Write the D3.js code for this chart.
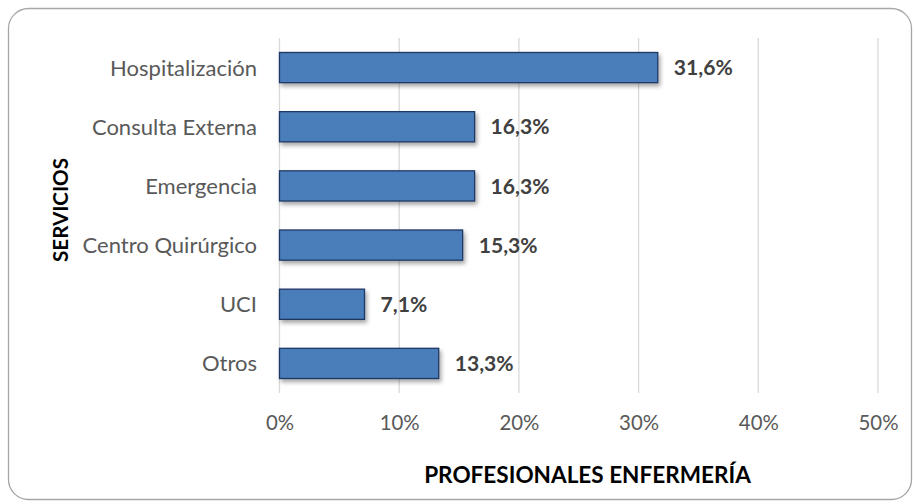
<!DOCTYPE html>
<html><head><meta charset="utf-8">
<script src="https://cdn.jsdelivr.net/npm/d3@7"></script>
<style>html,body{margin:0;padding:0;background:#fff}</style>
</head><body>
<script>
const categories = ["Hospitalización","Consulta Externa","Emergencia","Centro Quirúrgico","UCI","Otros"];
const values = [31.6,16.3,16.3,15.3,7.1,13.3];
const valueLabels = ["31,6%","16,3%","16,3%","15,3%","7,1%","13,3%"];
const ticks = [0,10,20,30,40,50];
const xTitle = "PROFESIONALES ENFERMERÍA";
const yTitle = "SERVICIOS";

const W=915,H=504;
const font = "Lato, 'Open Sans', sans-serif";
const svg = d3.select("body").append("svg").attr("width",W).attr("height",H);
const defs = svg.append("defs");
const f = defs.append("filter").attr("id","sh").attr("x","-10%").attr("y","-30%").attr("width","130%").attr("height","180%");
f.append("feDropShadow").attr("dx",2).attr("dy",3).attr("stdDeviation",2.2).attr("flood-color","#000").attr("flood-opacity",0.35);

// size a font so that a sample string has a target width
function fitSize(sample, target, weight){
  const t = svg.append("text").attr("font-family",font).attr("font-size",20).attr("font-weight",weight||"normal").text(sample);
  const w = t.node().getComputedTextLength(); t.remove();
  return 20*target/w;
}
const catSize = fitSize("Hospitalización",147);
const tickSize = fitSize("20%",40);
const valSize = fitSize("31,6%",59,"bold");
const titleSize = fitSize(xTitle,327,"bold");
const yTitleSize = fitSize(yTitle,104,"bold");

svg.append("rect").attr("x",8.5).attr("y",8.5).attr("width",903).attr("height",491).attr("rx",20)
  .attr("fill","#fff").attr("stroke","#a6a6a6").attr("stroke-width",1.3);

const x = d3.scaleLinear().domain([0,50]).range([279.5,878]);
const y = d3.scaleBand().domain(categories).range([38,393]).paddingInner(0.49).paddingOuter(0.245);

const g = svg.append("g");
g.selectAll("line.grid").data(ticks).join("line").attr("class","grid")
  .attr("x1",d=>x(d)).attr("x2",d=>x(d)).attr("y1",38).attr("y2",393)
  .attr("stroke","#d9d9d9").attr("stroke-width",1.3);

const xAxis = d3.axisBottom(x).tickValues(ticks).tickFormat(d=>d+"%").tickSize(0).tickPadding(0);
const xa = svg.append("g").attr("transform","translate(0,430)").call(xAxis);
xa.select(".domain").remove();
xa.selectAll("text").attr("font-family",font).attr("font-size",tickSize).attr("fill","#595959").attr("dy",0);

const yAxis = d3.axisLeft(y).tickSize(0).tickPadding(0);
const ya = svg.append("g").attr("transform","translate(257,0)").call(yAxis);
ya.select(".domain").remove();
ya.selectAll("text").attr("font-family",font).attr("font-size",catSize).attr("fill","#595959").attr("dy","0.36em");

g.selectAll("rect.bar").data(values).join("rect").attr("class","bar")
  .attr("x",x(0)).attr("y",(d,i)=>y(categories[i]))
  .attr("width",d=>x(d)-x(0)).attr("height",y.bandwidth())
  .attr("fill","#4a7ebb").attr("stroke","#1f3864").attr("stroke-width",1.3)
  .attr("filter","url(#sh)");

g.selectAll("text.val").data(values).join("text").attr("class","val")
  .attr("x",d=>x(d)+16).attr("y",(d,i)=>y(categories[i])+y.bandwidth()/2)
  .attr("dy","0.36em").attr("font-family",font).attr("font-size",valSize).attr("font-weight","bold")
  .attr("fill","#404040").text((d,i)=>valueLabels[i]);

svg.append("text").attr("x",587.5).attr("y",482.5).attr("text-anchor","middle")
  .attr("font-family",font).attr("font-size",titleSize).attr("font-weight","bold").attr("fill","#000").text(xTitle);
svg.append("text").attr("transform","translate(68,210) rotate(-90)").attr("text-anchor","middle")
  .attr("font-family",font).attr("font-size",yTitleSize).attr("font-weight","bold").attr("fill","#000").text(yTitle);
</script>
</body></html>
